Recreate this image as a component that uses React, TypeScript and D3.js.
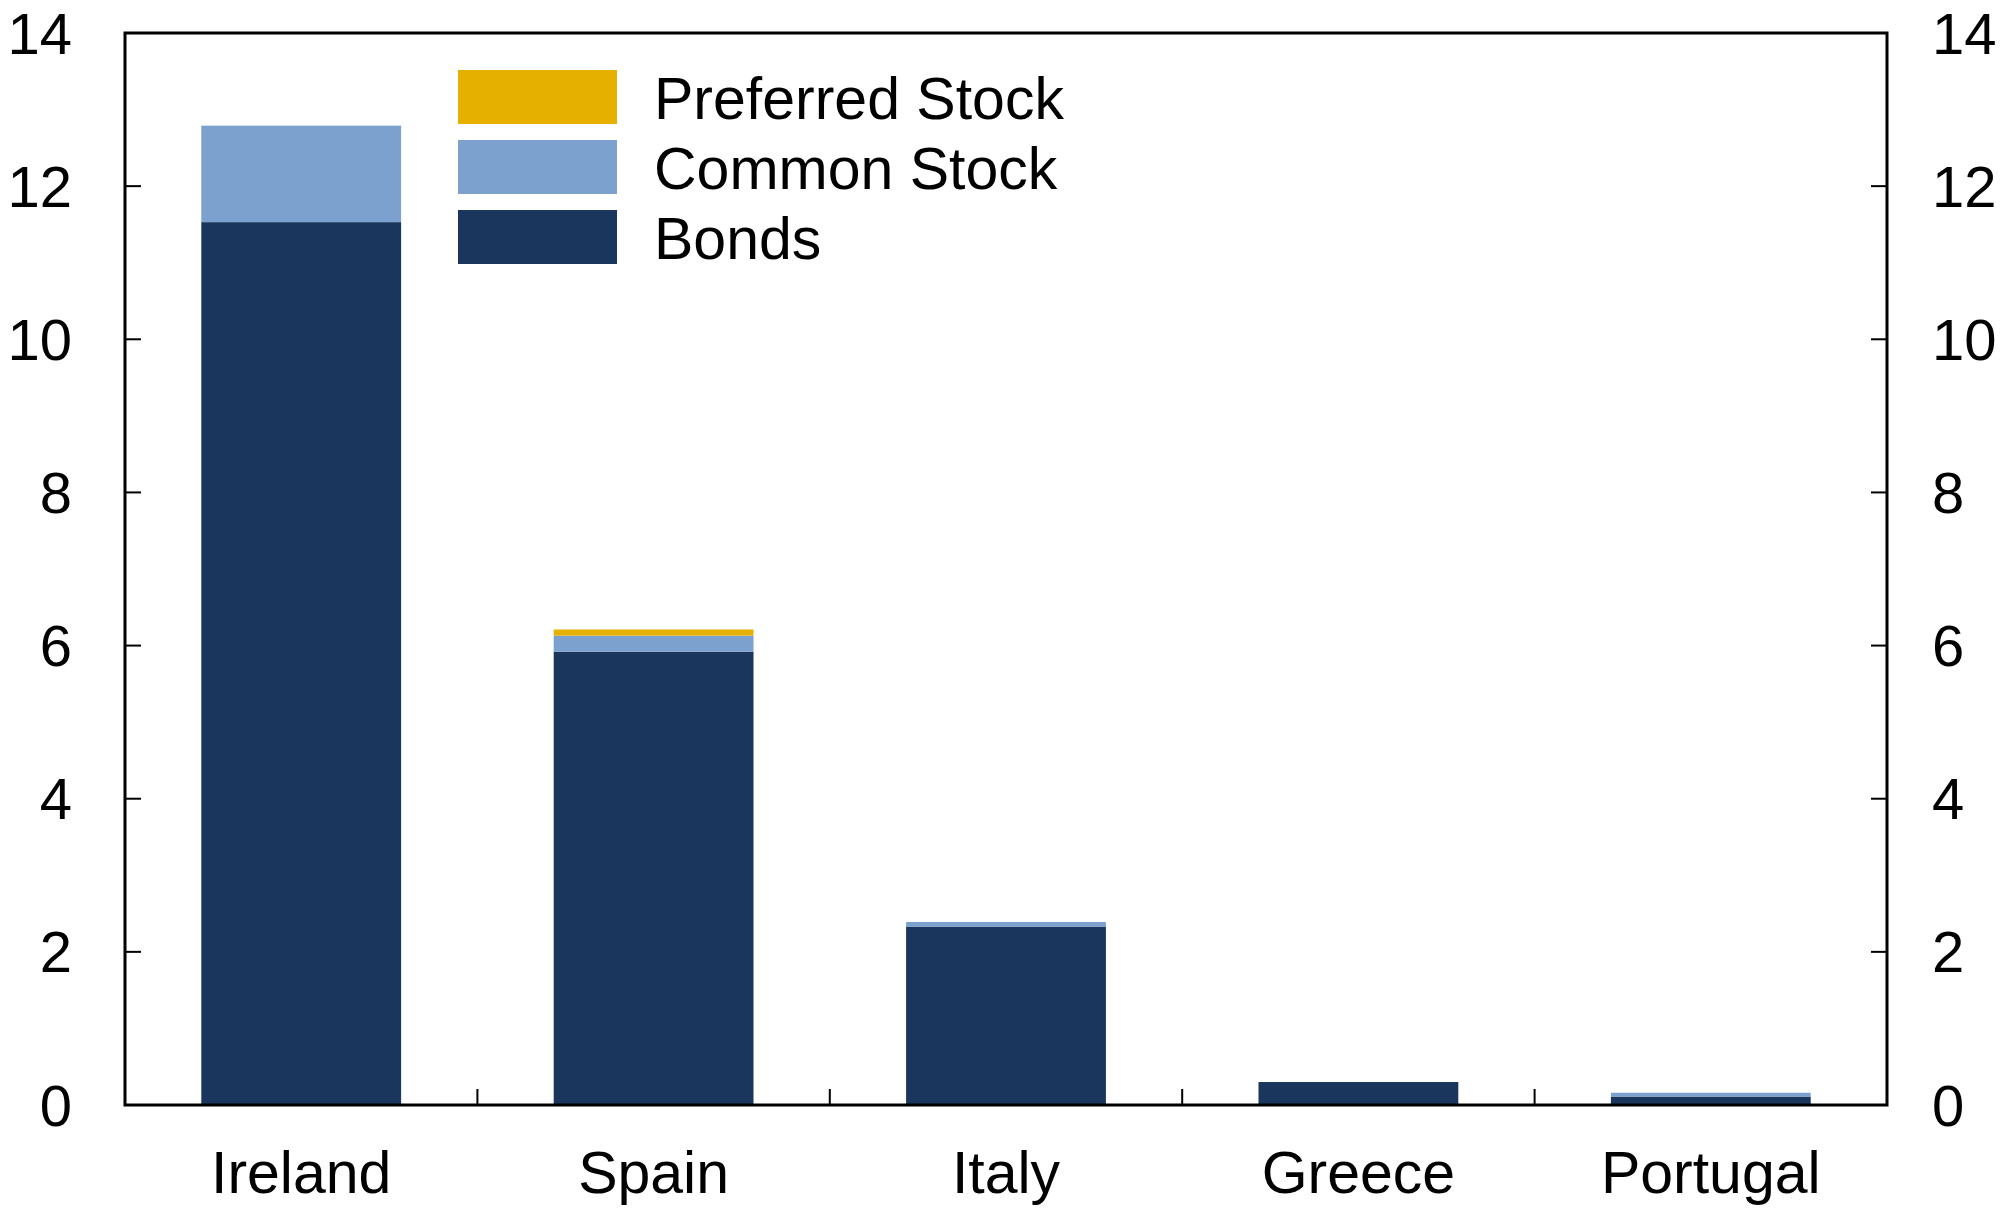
import React from "react";
import * as d3 from "d3";

const categories = ["Ireland", "Spain", "Italy", "Greece", "Portugal"];
const bonds = [11.53, 5.92, 2.33, 0.3, 0.11];
const commonStock = [1.26, 0.21, 0.06, 0.0, 0.05];
const preferredStock = [0.0, 0.08, 0.0, 0.0, 0.0];
const yTicks = [0, 2, 4, 6, 8, 10, 12, 14];
const seriesNames = ["Bonds", "Common Stock", "Preferred Stock"];
const seriesColors = ["#1A365D", "#7CA1CE", "#E5B000"];
const legendOrder = ["Preferred Stock", "Common Stock", "Bonds"];

const W = 2007;
const H = 1209;
const M = { left: 125, right: 1887, top: 33, bottom: 1105 };
const FONT = "'Liberation Sans', Arial, sans-serif";

export default function App() {
  const x = d3
    .scaleBand<string>()
    .domain(categories)
    .range([M.left, M.right])
    .paddingInner(0.433)
    .paddingOuter(0.2165);
  const xOuter = d3.scaleBand<string>().domain(categories).range([M.left, M.right]);
  const y = d3.scaleLinear().domain([0, 14]).range([M.bottom, M.top]);

  const rows = categories.map((c, i) => ({
    cat: c,
    Bonds: bonds[i],
    "Common Stock": commonStock[i],
    "Preferred Stock": preferredStock[i],
  }));
  const stack = d3.stack<any>().keys(seriesNames)(rows);
  const colorOf = (k: string) => seriesColors[seriesNames.indexOf(k)];
  const tickLen = 16;

  return (
    <div style={{ position: "absolute", left: 0, top: 0 }}>
      <svg width={W} height={H} style={{ display: "block", background: "#fff" }}>
        {stack.map((s) => (
          <g key={s.key} fill={colorOf(s.key)}>
            {s.map((d, i) =>
              d[1] - d[0] > 0 ? (
                <rect
                  key={i}
                  x={x(categories[i])}
                  width={x.bandwidth()}
                  y={y(d[1])}
                  height={y(d[0]) - y(d[1])}
                />
              ) : null
            )}
          </g>
        ))}
        {/* frame */}
        <rect
          x={M.left}
          y={M.top}
          width={M.right - M.left}
          height={M.bottom - M.top}
          fill="none"
          stroke="#000"
          strokeWidth={3}
        />
        {/* y ticks both sides */}
        {yTicks.map((t) => (
          <g key={t}>
            <line x1={M.left} x2={M.left + tickLen} y1={y(t)} y2={y(t)} stroke="#000" strokeWidth={2} />
            <line x1={M.right} x2={M.right - tickLen} y1={y(t)} y2={y(t)} stroke="#000" strokeWidth={2} />
            <text
              x={72}
              y={y(t)}
              textAnchor="end"
              dominantBaseline="central"
              fontFamily={FONT}
              fontSize={58}
              fill="#000"
            >
              {t}
            </text>
            <text
              x={1932}
              y={y(t)}
              textAnchor="start"
              dominantBaseline="central"
              fontFamily={FONT}
              fontSize={58}
              fill="#000"
            >
              {t}
            </text>
          </g>
        ))}
        {/* x ticks at band boundaries */}
        {categories.slice(1).map((c) => (
          <line
            key={c}
            x1={xOuter(c)}
            x2={xOuter(c)}
            y1={M.bottom}
            y2={M.bottom - tickLen}
            stroke="#000"
            strokeWidth={2}
          />
        ))}
        {categories.map((c) => (
          <text
            key={c}
            x={(x(c) as number) + x.bandwidth() / 2}
            y={1193}
            textAnchor="middle"
            fontFamily={FONT}
            fontSize={59}
            fill="#000"
          >
            {c}
          </text>
        ))}
        {/* legend */}
        {legendOrder.map((name, i) => (
          <g key={name} transform={`translate(0, ${70 + i * 70})`}>
            <rect x={458} y={0} width={159} height={54} fill={colorOf(name)} />
            <text
              x={654}
              y={29}
              dominantBaseline="central"
              fontFamily={FONT}
              fontSize={59}
              fill="#000"
            >
              {name}
            </text>
          </g>
        ))}
      </svg>
    </div>
  );
}
